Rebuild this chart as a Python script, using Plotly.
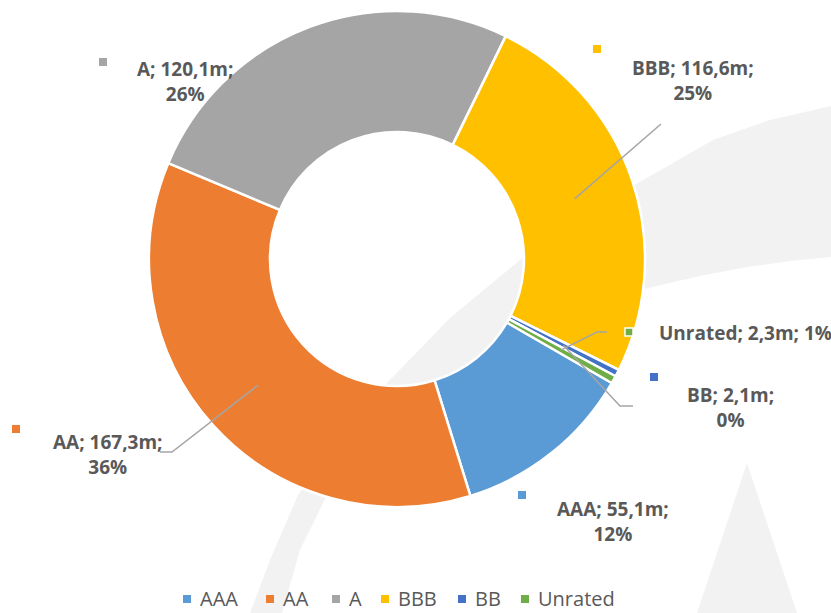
import math
import plotly.graph_objects as go

# ---------------- data ----------------
categories = ["AAA", "AA", "A", "BBB", "BB", "Unrated"]
values = [55.1, 167.3, 120.1, 116.6, 2.1, 2.3]
percent_labels = ["12%", "36%", "26%", "25%", "0%", "1%"]
colors = ["#5B9BD5", "#ED7D31", "#A5A5A5", "#FFC000", "#4472C4", "#70AD47"]

# ---------------- geometry (pixels) ----------------
W, H = 831, 613
PIE_LEFT, PIE_RIGHT, PIE_TOP, PIE_BOTTOM = 147, 647, 11, 507
HOLE = 0.512
ROTATION = 120
TEXT_COLOR = "#595959"
FONT = "Open Sans"

label_geo = {
    "AAA": dict(center=(613, 521), marker=(522, 495), leader=None, oneline=False),
    "AA": dict(center=(108, 454), marker=(16, 429), leader=[(172, 452), (160, 452)], oneline=False),
    "A": dict(center=(185, 82), marker=(103, 62), leader=None, oneline=False),
    "BBB": dict(center=(693, 80), marker=(597, 49), leader=[(661, 124)], oneline=False),
    "BB": dict(center=(730, 407), marker=(654, 377), leader=[(620, 406), (633, 406)], oneline=False),
    "Unrated": dict(center=(745, 333), marker=(629, 332), leader=[(597, 332), (607, 332)], oneline=True),
}
legend_marker_x = [187, 270, 336, 385, 462, 525]
LEGEND_Y = 598


def px(x, y):
    return x / W, 1 - y / H


# ---------------- figure ----------------
fig = go.Figure()
fig.add_trace(go.Pie(
    labels=categories,
    values=values,
    marker=dict(colors=colors, line=dict(color="white", width=2.5)),
    hole=HOLE,
    sort=False,
    direction="clockwise",
    rotation=ROTATION,
    textinfo="none",
    domain=dict(x=[PIE_LEFT / W, PIE_RIGHT / W], y=[1 - PIE_BOTTOM / H, 1 - PIE_TOP / H]),
    hoverinfo="label+value+percent",
    showlegend=False,
))

shapes = []

# faint watermark in the background
outer_edge = [(250, 613), (270, 560), (298, 495), (340, 435), (387, 383), (450, 318),
              (520, 260), (580, 218), (638, 183), (713, 140), (770, 120), (831, 106)]
inner_edge = [(831, 257), (790, 261), (747, 267), (700, 276), (648, 288), (590, 305),
              (530, 330), (470, 365), (420, 400), (370, 445), (327, 495), (300, 550), (282, 613)]


def to_path(points, close=True):
    segs = []
    for i, (x, y) in enumerate(points):
        X, Y = px(x, y)
        segs.append(("M" if i == 0 else "L") + f"{X:.5f},{Y:.5f}")
    return " ".join(segs) + (" Z" if close else "")


for pts in (outer_edge + inner_edge, [(747, 463), (797, 613), (697, 613)]):
    shapes.append(dict(type="path", xref="paper", yref="paper", path=to_path(pts),
                       fillcolor="#F2F2F2", line=dict(width=0), layer="below"))


def square(mx, my, col, half, border=0):
    x0, y0 = px(mx - half, my + half)
    x1, y1 = px(mx + half, my - half)
    return dict(type="rect", xref="paper", yref="paper", x0=x0, y0=y0, x1=x1, y1=y1,
                fillcolor=col, line=dict(color="white", width=border))


# label leader lines, markers and texts
cx = (PIE_LEFT + PIE_RIGHT) / 2
cy = (PIE_TOP + PIE_BOTTOM) / 2
r_out = min(PIE_RIGHT - PIE_LEFT, PIE_BOTTOM - PIE_TOP) / 2
r_mid = r_out * (1 + HOLE) / 2
total = sum(values)
annotations = []
acc = 0.0
for cat, val, pct, col in zip(categories, values, percent_labels, colors):
    mid = ROTATION + (acc + val / 2) / total * 360
    acc += val
    g = label_geo[cat]
    a = math.radians(mid)
    sx, sy = cx + r_mid * math.sin(a), cy - r_mid * math.cos(a)
    if g["leader"]:
        shapes.append(dict(type="path", xref="paper", yref="paper",
                           path=to_path([(sx, sy)] + g["leader"], close=False),
                           line=dict(color="#A5A5A5", width=1.5)))
    shapes.append(square(*g["marker"], col, 4, 1.5 if g["oneline"] else 0))
    sep = " " if g["oneline"] else "<br>"
    text = f"<b>{cat}; {val:.1f}m;".replace(".", ",") + sep + pct + "</b>"
    tx, ty = px(*g["center"])
    annotations.append(dict(x=tx, y=ty, xref="paper", yref="paper", text=text, showarrow=False,
                            xanchor="center", yanchor="middle", align="center",
                            font=dict(family=FONT, size=19, color=TEXT_COLOR)))

# legend
for cat, col, lx in zip(categories, colors, legend_marker_x):
    shapes.append(square(lx, LEGEND_Y + 1, col, 4))
    tx, ty = px(lx + 12, LEGEND_Y)
    annotations.append(dict(x=tx, y=ty, xref="paper", yref="paper", text=cat, showarrow=False,
                            xanchor="left", yanchor="middle", borderpad=0,
                            font=dict(family=FONT, size=20, color=TEXT_COLOR)))

fig.update_layout(
    width=W, height=H,
    margin=dict(l=0, r=0, t=0, b=0),
    paper_bgcolor="white", plot_bgcolor="white",
    shapes=shapes,
    annotations=annotations,
    showlegend=False,
    font=dict(family=FONT, color=TEXT_COLOR),
)

fig.write_html("out.html", config={"displayModeBar": False},
               post_script="document.body.style.margin='0px';document.body.style.overflow='hidden';")
